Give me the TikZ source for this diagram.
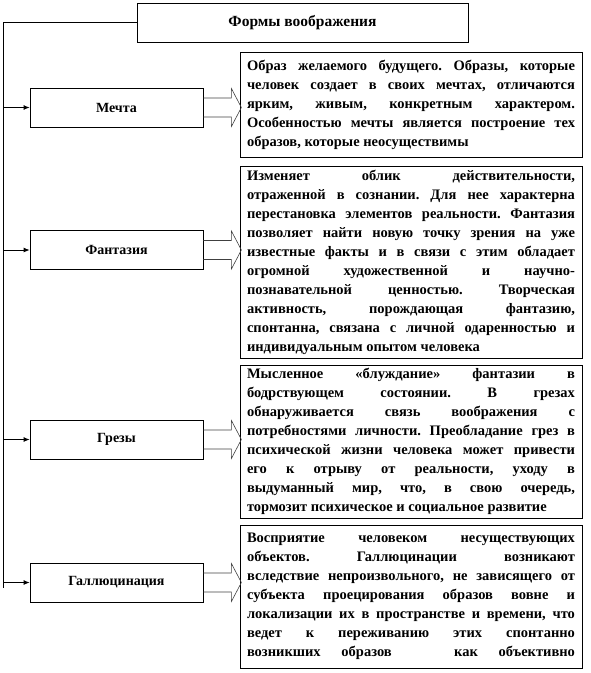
\documentclass[tikz,border=0pt]{standalone}
\usepackage{fontspec}
\setmainfont{Liberation Serif}
\usepackage{tikz}
\usetikzlibrary{arrows.meta,positioning}
\frenchspacing

\tikzset{
  formbox/.style={draw, line width=0.8pt, minimum width=173pt, minimum height=39pt,
    font=\fontsize{14}{17}\selectfont\bfseries},
  descbox/.style={draw, line width=0.8pt, text width=328pt, inner xsep=7pt, inner ysep=0pt,
    align=justify, font=\fontsize{14.5}{19}\selectfont\bfseries},
  blockarrow/.style={draw=black!75, line width=0.6pt},
  busline/.style={line width=0.8pt}
}

\begin{document}
\begin{tikzpicture}[x=1pt, y=-1pt, >={Latex[length=6pt,width=5pt]}]
    \useasboundingbox (0,0) rectangle (590,673);

    % Title
    \node[draw, line width=0.8pt, minimum width=331pt, minimum height=39pt,
      font=\fontsize{15.5}{18}\selectfont\bfseries] (title) at (302.5,22.5) {Формы воображения};

    % Forms of imagination (left column)
    \node[formbox] (mechta) at (116.5,107.5) {Мечта};
    \node[formbox] (fantaz) at (116.5,250) {Фантазия};
    \node[formbox] (grezy)  at (116.5,439.5) {Грезы};
    \node[formbox] (gallu)  at (116.5,582.5) {Галлюцинация};

    % Descriptions (right column)
    \node[descbox, minimum height=105pt] (mechtaT) at (411,104.5) {Образ желаемого будущего. Образы, которые\linebreak
      человек создает в своих мечтах, отличаются\linebreak
      ярким, живым, конкретным характером.\linebreak
      Особенностью мечты является построение тех\linebreak
      образов, которые неосуществимы};
    \node[descbox, minimum height=192pt] (fantazT) at (411,262) {Изменяет облик действительности,\linebreak
      отраженной в сознании. Для нее характерна\linebreak
      перестановка элементов реальности. Фантазия\linebreak
      позволяет найти новую точку зрения на уже\linebreak
      известные факты и в связи с этим обладает\linebreak
      огромной художественной и научно-\linebreak
      познавательной ценностью. Творческая\linebreak
      активность, порождающая фантазию,\linebreak
      спонтанна, связана с личной одаренностью и\linebreak
      индивидуальным опытом человека};
    \node[descbox, minimum height=153pt] (grezyT) at (411,441.5) {Мысленное «блуждание» фантазии в\linebreak
      бодрствующем состоянии. В грезах\linebreak
      обнаруживается связь воображения с\linebreak
      потребностями личности. Преобладание грез в\linebreak
      психической жизни человека может привести\linebreak
      его к отрыву от реальности, уходу в\linebreak
      выдуманный мир, что, в свою очередь,\linebreak
      тормозит психическое и социальное развитие};
    \node[descbox, minimum height=143pt] (galluT) at (411,596.5) {Восприятие человеком несуществующих\linebreak
      объектов. Галлюцинации возникают\linebreak
      вследствие непроизвольного, не зависящего от\linebreak
      субъекта проецирования образов вовне и\linebreak
      локализации их в пространстве и времени, что\linebreak
      ведет к переживанию этих спонтанно\linebreak
      возникших\hfill образов\hfill\hfill\hfill как\hfill объективно};

    % Bus line from the title
    \coordinate (busTop) at (3,22.5);
    \coordinate (busEnd) at (3,588);
    \draw[busline] (title.west) -- (busTop) -- (busEnd);
    \draw[busline, ->] (busTop |- mechta.west) -- (mechta.west);
    \draw[busline, ->] (busTop |- fantaz.west) -- (fantaz.west);
    \draw[busline, ->] (busTop |- grezy.west) -- (grezy.west);
    \draw[busline, ->] (busTop |- gallu.west) -- (gallu.west);

    % Block arrows to the descriptions
    \draw[blockarrow] (mechta.east) ++(0,-9.5) -- ++(28,0) -- ++(0,-9.5) -- ++(10,19) -- ++(-10,19) -- ++(0,-9.5) -- ++(-28,0);
    \draw[blockarrow] (fantaz.east) ++(0,-9.5) -- ++(28,0) -- ++(0,-9.5) -- ++(10,19) -- ++(-10,19) -- ++(0,-9.5) -- ++(-28,0);
    \draw[blockarrow] (grezy.east) ++(0,-9.5) -- ++(28,0) -- ++(0,-9.5) -- ++(10,19) -- ++(-10,19) -- ++(0,-9.5) -- ++(-28,0);
    \draw[blockarrow] (gallu.east) ++(0,-9.5) -- ++(28,0) -- ++(0,-9.5) -- ++(10,19) -- ++(-10,19) -- ++(0,-9.5) -- ++(-28,0);

\end{tikzpicture}
\end{document}
